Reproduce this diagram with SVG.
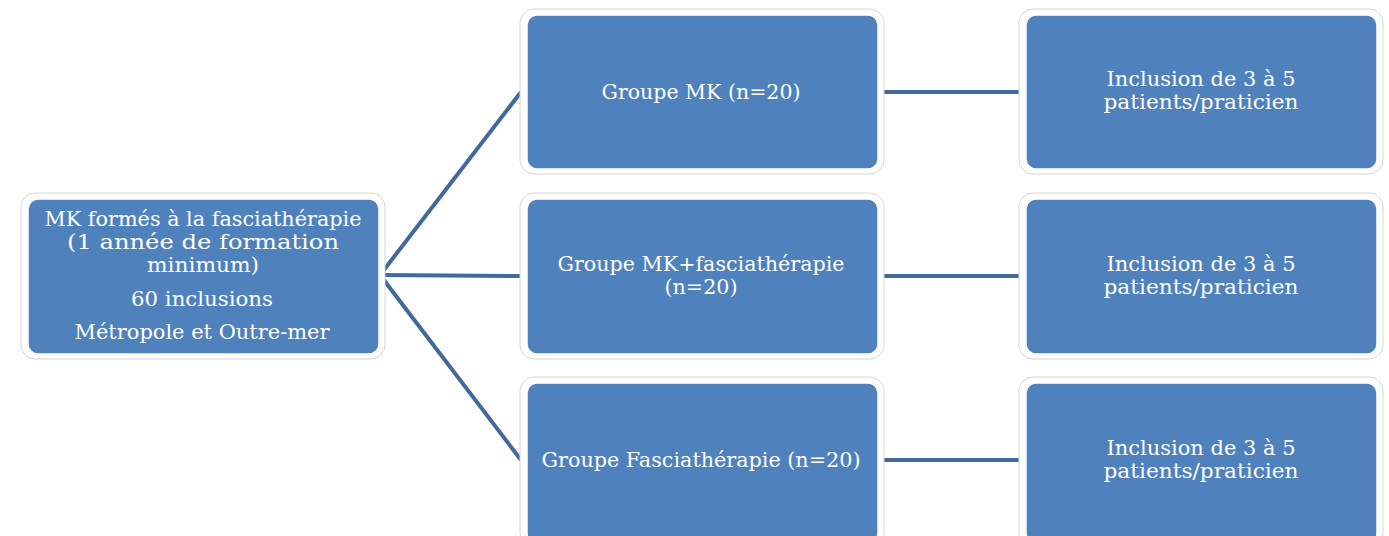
<svg xmlns="http://www.w3.org/2000/svg" width="1389" height="536" viewBox="0 0 1389 536">
<style>
.halo{fill:#ffffff;stroke:#d6d6d6;stroke-width:1}
.box{fill:#4f81bd;stroke:#ffffff;stroke-width:1.5}
.t{font-family:"DejaVu Serif","Liberation Serif",serif;font-size:20.5px;fill:#ffffff;text-anchor:middle}
.c{stroke:#41699b;stroke-width:4;fill:none}
</style>
<rect width="1389" height="536" fill="#ffffff"/>
<g id="connectors">
<line class="c" x1="380" y1="275" x2="521" y2="92"/>
<line class="c" x1="380" y1="275" x2="521" y2="276"/>
<line class="c" x1="380" y1="275" x2="521" y2="460"/>
<line class="c" x1="883" y1="92" x2="1020" y2="92"/>
<line class="c" x1="883" y1="276" x2="1020" y2="276"/>
<line class="c" x1="883" y1="460" x2="1020" y2="460"/>
</g>
<g id="root">
<rect class="halo" x="21" y="193" width="364" height="166" rx="14"/>
<rect class="box" x="28" y="199" width="351" height="155" rx="10"/>
<text class="t" x="203" y="226" textLength="317" lengthAdjust="spacingAndGlyphs">MK formés à la fasciathérapie</text>
<text class="t" x="203" y="249" textLength="272" lengthAdjust="spacingAndGlyphs">(1 année de formation</text>
<text class="t" x="203" y="272" textLength="112" lengthAdjust="spacingAndGlyphs">minimum)</text>
<text class="t" x="202" y="306" textLength="142" lengthAdjust="spacingAndGlyphs">60 inclusions</text>
<text class="t" x="202" y="339" textLength="255" lengthAdjust="spacingAndGlyphs">Métropole et Outre-mer</text>
</g>
<g id="groupe-mk">
<rect class="halo" x="520" y="9" width="364" height="165" rx="14"/>
<rect class="box" x="527" y="15" width="351" height="154" rx="10"/>
<text class="t" x="701" y="99" textLength="199" lengthAdjust="spacingAndGlyphs">Groupe MK (n=20)</text>
</g>
<g id="groupe-mk-fascia">
<rect class="halo" x="520" y="193" width="364" height="166" rx="14"/>
<rect class="box" x="527" y="199" width="351" height="155" rx="10"/>
<text class="t" x="701" y="271" textLength="287" lengthAdjust="spacingAndGlyphs">Groupe MK+fasciathérapie</text>
<text class="t" x="701" y="294" textLength="73" lengthAdjust="spacingAndGlyphs">(n=20)</text>
</g>
<g id="groupe-fascia">
<rect class="halo" x="520" y="377" width="364" height="170" rx="14"/>
<rect class="box" x="527" y="383" width="351" height="160" rx="10"/>
<text class="t" x="701" y="467" textLength="319" lengthAdjust="spacingAndGlyphs">Groupe Fasciathérapie (n=20)</text>
</g>
<g id="inclusion-1">
<rect class="halo" x="1019" y="9" width="364" height="165" rx="14"/>
<rect class="box" x="1026" y="15" width="351" height="154" rx="10"/>
<text class="t" x="1201" y="86" textLength="189" lengthAdjust="spacingAndGlyphs">Inclusion de 3 à 5</text>
<text class="t" x="1201" y="109" textLength="195" lengthAdjust="spacingAndGlyphs">patients/praticien</text>
</g>
<g id="inclusion-2">
<rect class="halo" x="1019" y="193" width="364" height="166" rx="14"/>
<rect class="box" x="1026" y="199" width="351" height="155" rx="10"/>
<text class="t" x="1201" y="271" textLength="189" lengthAdjust="spacingAndGlyphs">Inclusion de 3 à 5</text>
<text class="t" x="1201" y="294" textLength="195" lengthAdjust="spacingAndGlyphs">patients/praticien</text>
</g>
<g id="inclusion-3">
<rect class="halo" x="1019" y="377" width="364" height="170" rx="14"/>
<rect class="box" x="1026" y="383" width="351" height="160" rx="10"/>
<text class="t" x="1201" y="455" textLength="189" lengthAdjust="spacingAndGlyphs">Inclusion de 3 à 5</text>
<text class="t" x="1201" y="478" textLength="195" lengthAdjust="spacingAndGlyphs">patients/praticien</text>
</g>
</svg>
